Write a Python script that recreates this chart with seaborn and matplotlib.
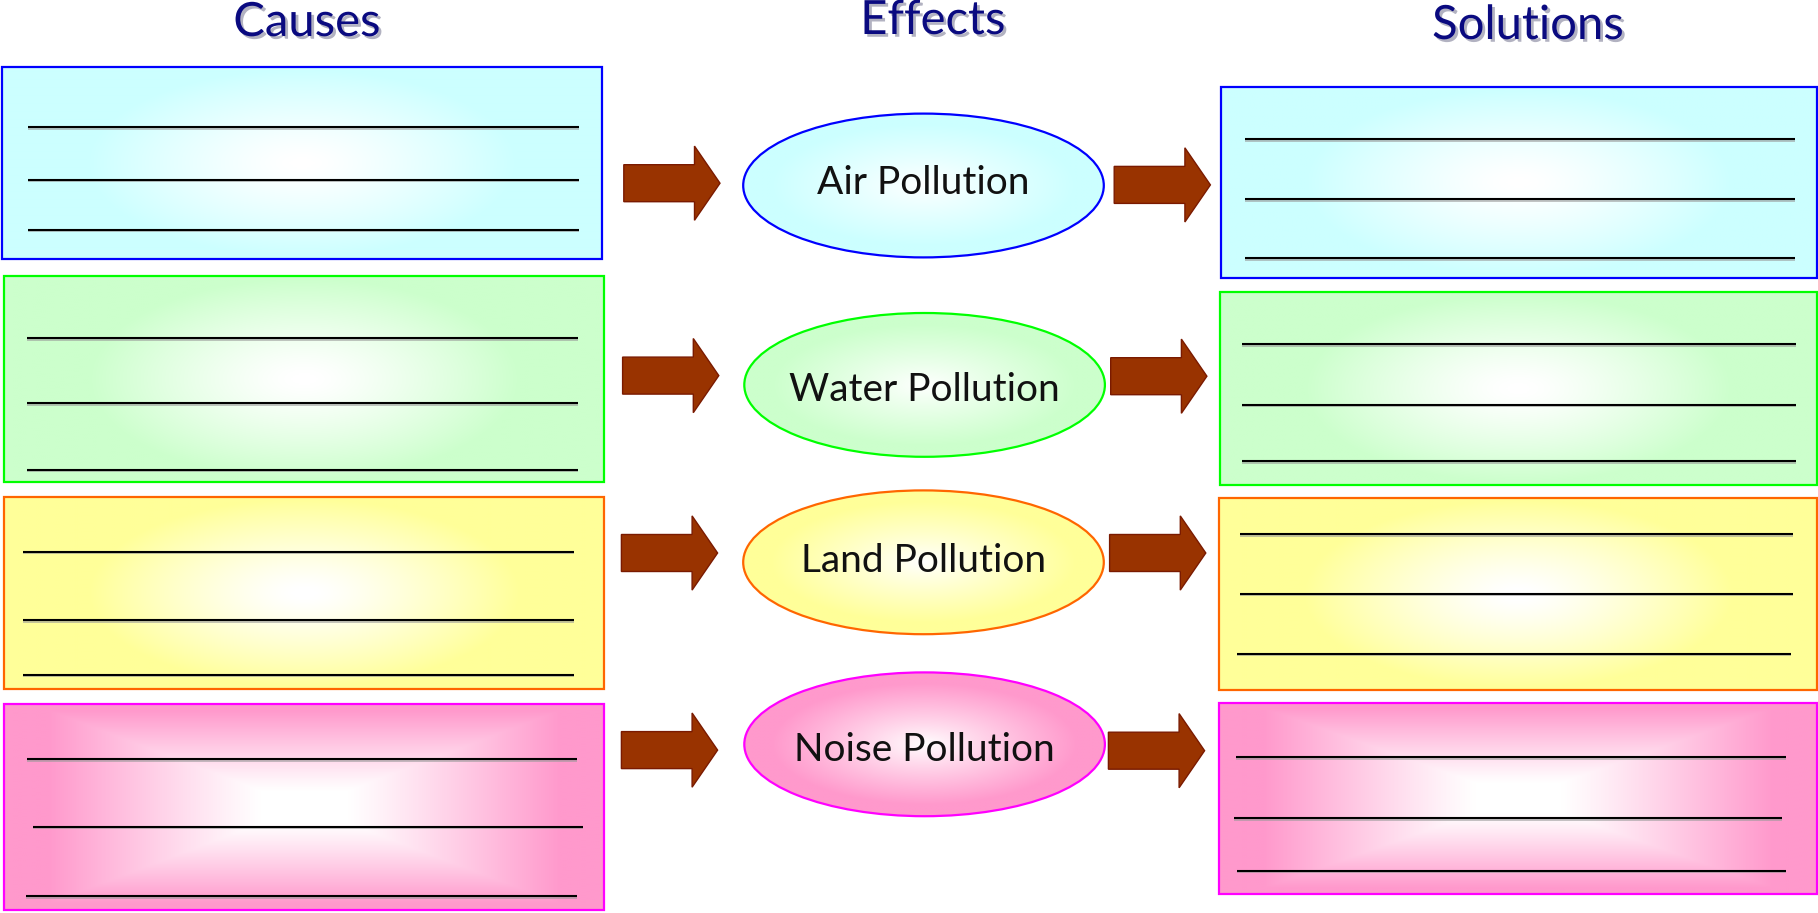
import numpy as np
import matplotlib
matplotlib.use("Agg")
import matplotlib.pyplot as plt
from matplotlib.patches import Rectangle, Ellipse, Polygon
import matplotlib.patheffects as pe
import seaborn as sns

# ---------------- content ----------------
headers = ["Causes", "Effects", "Solutions"]
effects = ["Air Pollution", "Water Pollution", "Land Pollution", "Noise Pollution"]
fill_colors = ["#ccffff", "#ccffcc", "#ffff99", "#ff99cc"]
edge_colors = ["#0000ff", "#00ff00", "#ff6600", "#ff00ff"]

# ---------------- layout (pixel canvas) ----------------
header_x = [307, 933, 1528]
header_y = [23, 21, 26]

cause_boxes = [(2, 67, 602, 259), (3.5, 276, 604, 482), (3.5, 497, 604, 689), (3.5, 704, 604, 910)]
cause_lines_y = [[127.5, 179.7, 229.6], [338.5, 403.5, 469.6], [551.9, 620.3, 674.8], [759.4, 826.7, 896.2]]
cause_lines_x = [[(28, 578.5)] * 3, [(27, 577.5)] * 3, [(23, 574)] * 3,
                 [(27, 577), (32.5, 583), (25.5, 577)]]

sol_boxes = [(1221, 87, 1817, 278), (1220, 292, 1817, 484.6), (1218.5, 498.5, 1816.8, 690), (1218.5, 702.6, 1816.8, 894)]
sol_lines_y = [[139.1, 199.4, 258.5], [344.3, 404.6, 461.4], [534.5, 593.6, 653.9], [757.1, 818.5, 870.7]]
sol_lines_x = [[(1245, 1795)] * 3, [(1242, 1796)] * 3, [(1239.5, 1792.5), (1239.5, 1792.5), (1237, 1791)],
               [(1236, 1785.5), (1233.6, 1782), (1237, 1785.5)]]

ell_cx = [923.5, 924.6, 923.5, 924.6]
ell_cy = [185.5, 384.9, 562.3, 744.3]
ell_w, ell_h = 360.6, 143.8
label_y = [183.5, 389.6, 561.2, 750.1]

larrow_x0 = [623.8, 622.6, 621.4, 621.4]
larrow_y = [183.2, 375.6, 553.0, 750.1]
rarrow_x0 = [1114.2, 1110.7, 1109.6, 1108.4]
rarrow_y = [184.9, 376.2, 553.0, 750.7]
arrow_len, head_len, shaft_half, head_half = 96.2, 25.5, 18.5, 37.1

# ---------------- style ----------------
sns.set_theme(style="white")
plt.rcParams['font.family'] = ['Lato', 'DejaVu Sans']

fig = plt.figure(figsize=(18.18, 9.13), dpi=100)
ax = fig.add_axes([0, 0, 1, 1])
ax.set_xlim(0, 1818)
ax.set_ylim(913, 0)
ax.axis('off')


def gradient_fill(patch, x0, y0, x1, y1, color, mode, z):
    cmap = sns.blend_palette(["#ffffff", color], as_cmap=True)
    nx, ny = 300, 120
    xs = np.linspace(-1, 1, nx)
    ys = np.linspace(-1, 1, ny)
    X, Y = np.meshgrid(xs, ys)
    if mode == "rect":
        t = np.maximum(np.abs(X) / 0.95, np.abs(Y) / 1.05)
        t = np.clip((t - 0.15) / 0.75, 0, 1) ** 1.1
    elif mode == "ellipse_box":
        t = np.sqrt((X / 0.8) ** 2 + (Y / 1.1) ** 2)
        t = np.clip((t - 0.05) / 0.85, 0, 1) ** 1.2
    else:
        t = np.sqrt(X ** 2 + Y ** 2)
        t = np.clip(t / 0.85, 0, 1) ** 0.9
    im = ax.imshow(t, cmap=cmap, vmin=0, vmax=1, extent=(x0, x1, y1, y0),
                   interpolation="bilinear", zorder=z, aspect="auto")
    im.set_clip_path(patch)


def draw_box(box, fc, ec, ys, xs, idx):
    x0, y0, x1, y1 = box
    rect = Rectangle((x0, y0), x1 - x0, y1 - y0, facecolor="none", edgecolor=ec, lw=1.6, zorder=3)
    ax.add_patch(rect)
    mode = "rect" if idx == 3 else "ellipse_box"
    gradient_fill(rect, x0, y0, x1, y1, fc, mode, 1)
    for yy, (lx0, lx1) in zip(ys, xs):
        ax.plot([lx0, lx1], [yy + 1.5, yy + 1.5], color="#9a9a9a", lw=1.4, alpha=0.6, zorder=2,
                solid_capstyle="butt")
        ax.plot([lx0, lx1], [yy, yy], color="#000000", lw=1.5, zorder=2.5, solid_capstyle="butt")


def draw_arrow(x0, yc):
    xb = x0 + arrow_len - head_len
    x1 = x0 + arrow_len
    pts = [(x0, yc - shaft_half), (xb, yc - shaft_half), (xb, yc - head_half), (x1, yc),
           (xb, yc + head_half), (xb, yc + shaft_half), (x0, yc + shaft_half)]
    ax.add_patch(Polygon(pts, closed=True, facecolor="#993300", edgecolor="#7a1a00", lw=1.0, zorder=3))


for i in range(len(effects)):
    draw_box(cause_boxes[i], fill_colors[i], edge_colors[i], cause_lines_y[i], cause_lines_x[i], i)
    draw_box(sol_boxes[i], fill_colors[i], edge_colors[i], sol_lines_y[i], sol_lines_x[i], i)

    e = Ellipse((ell_cx[i], ell_cy[i]), ell_w, ell_h, facecolor="none", edgecolor=edge_colors[i], lw=1.6, zorder=3)
    ax.add_patch(e)
    gradient_fill(e, ell_cx[i] - ell_w / 2, ell_cy[i] - ell_h / 2, ell_cx[i] + ell_w / 2, ell_cy[i] + ell_h / 2,
                  fill_colors[i], "ellipse", 1)
    ax.text(ell_cx[i], label_y[i], effects[i], ha="center", va="center", fontsize=28,
            fontweight="normal", color="#111111", zorder=4)

    draw_arrow(larrow_x0[i], larrow_y[i])
    draw_arrow(rarrow_x0[i], rarrow_y[i])

for h, hx, hy in zip(headers, header_x, header_y):
    ax.text(hx, hy, h, ha="center", va="center", fontsize=34, fontweight="normal", color="#0a0a80", zorder=4,
            path_effects=[pe.withSimplePatchShadow(offset=(2, -2), shadow_rgbFace="#555577", alpha=0.45)])

fig.savefig("out.png", dpi=100)
